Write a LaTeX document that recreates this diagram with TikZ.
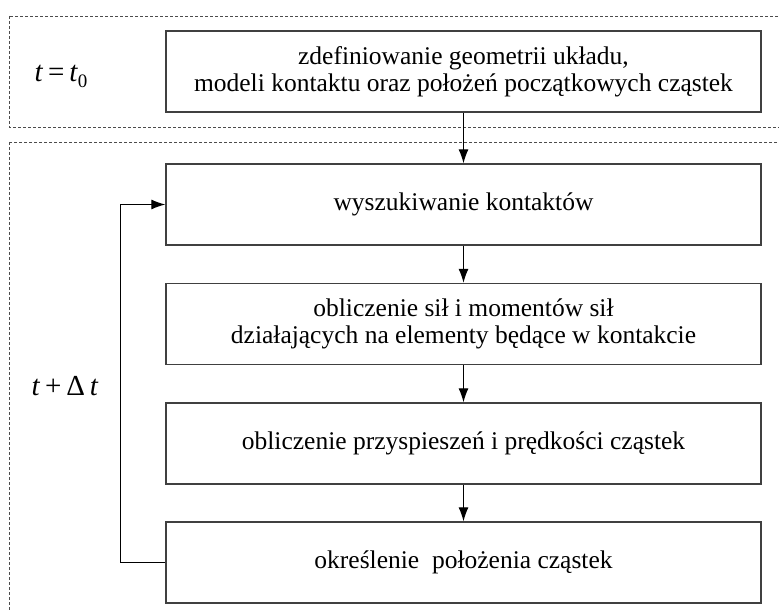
\documentclass[tikz,border=0pt]{standalone}
\usepackage{fontspec}
\setmainfont{Liberation Serif}
\usetikzlibrary{arrows.meta}

\tikzset{
  stepbox/.style={draw=black!75,line width=1.3pt,minimum width=595pt,minimum height=81pt,
    align=center,inner sep=0pt,font=\fontsize{25.5}{27}\selectfont},
  frame/.style={draw=black!70,line width=0.9pt,dash pattern=on 3pt off 2pt},
  arr/.style={line width=1.2pt,-{Latex[length=14pt,width=10pt]}},
  timelbl/.style={font=\fontsize{29}{30}\selectfont}
}

\begin{document}
\begin{tikzpicture}[x=1pt,y=-1pt]
\useasboundingbox (0,0) rectangle (779,612);
\clip (0,0) rectangle (779,612);
% time frames
\draw[frame] (9,16) rectangle (800,127);
\draw[frame] (9,142) rectangle (800,640);
\node[timelbl] (tzero) at (61,76) {\textit{t}\,=\,\textit{t}\raisebox{-0.45ex}{\fontsize{19}{19}\selectfont 0}};
\node[timelbl] (tstep) at (65,386) {\textit{t}\,+\,Δ\,\textit{t}};
% steps
\node[stepbox] (init) at (463.5,71.5) {zdefiniowanie geometrii układu,\\modeli kontaktu oraz położeń początkowych cząstek};
\node[stepbox] (search) at (463.5,204.5) {wyszukiwanie kontaktów};
\node[stepbox] (forces) at (463.5,324) {obliczenie sił i momentów sił\\działających na elementy będące w kontakcie};
\node[stepbox] (accel) at (463.5,443.5) {obliczenie przyspieszeń i prędkości cząstek};
\node[stepbox] (pos) at (463.5,562.5) {określenie\ \ położenia cząstek};
% connectors
\draw[arr] (init) -- (search);
\draw[arr] (search) -- (forces);
\draw[arr] (forces) -- (accel);
\draw[arr] (accel) -- (pos);
\draw[arr] (pos.west) -- ++(-45,0) |- (search.west);
\end{tikzpicture}
\end{document}
